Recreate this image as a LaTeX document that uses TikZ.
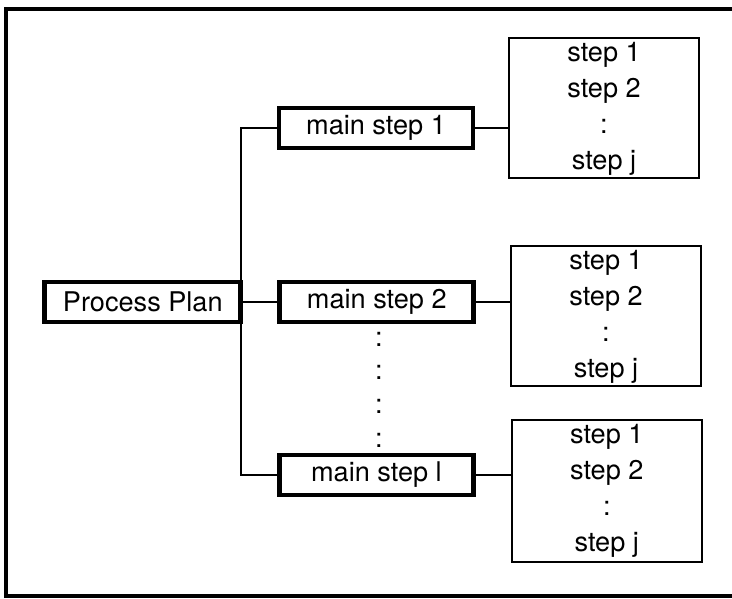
\documentclass[tikz,border=0pt]{standalone}
\usepackage{fontspec}
\setmainfont{TeX Gyre Heros}
\begin{document}
\begin{tikzpicture}[scale=1,inner sep=0pt,outer sep=0pt,line width=1.1pt,
font=\fontsize{19.3}{25.6}\selectfont,
planbox/.style={draw,rectangle,line width=3.5pt,minimum width=4.9cm,minimum height=1cm},
mainbox/.style={draw,rectangle,line width=3.5pt,minimum width=4.85cm,minimum height=1cm},
stepbox/.style={draw,rectangle,line width=1.4pt,align=center,minimum width=4.75cm,minimum height=3.5cm}]

\useasboundingbox (0,0) rectangle (18.3,14.95);
% outer frame, its right side lies off the page
\draw[line width=2.5pt] (18.5,14.73) -- (0.15,14.73) -- (0.15,0.05) -- (18.5,0.05);

\draw (3.57,7.4) node[planbox] (plan) {Process Plan};
\draw (9.4,11.75) node[mainbox] (M1) {main step 1};
\draw (9.42,7.4) node[mainbox] (M2) {main step 2};
\draw (9.41,3.075) node[mainbox] (Ml) {main step l};
\foreach \y [count=\i] in {6.475,5.6375,4.7875,3.9375}
  \draw (9.475,\y) node (dots\i) {:};

\draw (15.1,12.24) node[stepbox] (S1) {step 1\\step 2\\:\\step j};
\draw (15.15,7.04) node[stepbox] (S2) {step 1\\step 2\\:\\step j};
\draw (15.17,2.675) node[stepbox,minimum height=3.55cm] (Sl) {step 1\\step 2\\:\\step j};

\draw (M1.west) -| (plan.east) |- (Ml.west);
\draw (plan.east) -- (M2.west);
\draw (M1.east) -- (M1.east -| S1.west);
\draw (M2.east) -- (M2.east -| S2.west);
\draw (Ml.east) -- (Ml.east -| Sl.west);
\end{tikzpicture}
\end{document}
